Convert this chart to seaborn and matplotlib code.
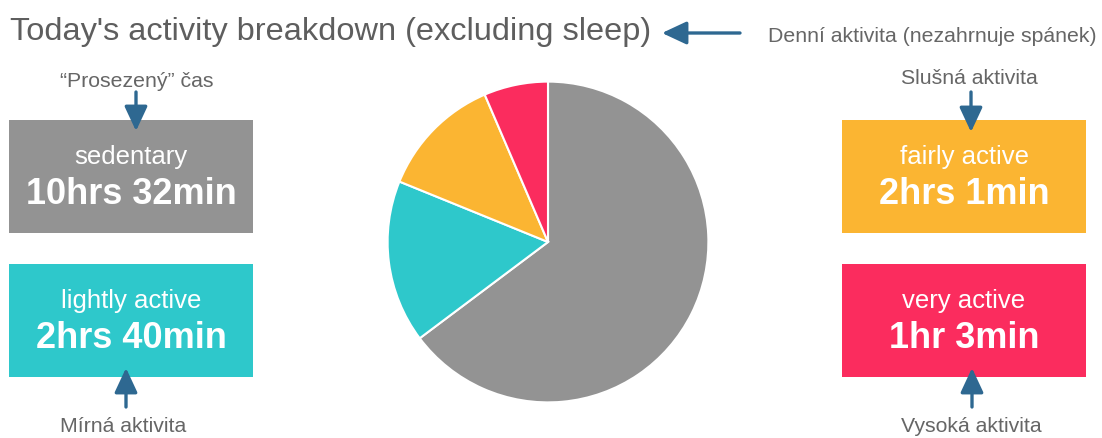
import matplotlib
matplotlib.use("Agg")
import matplotlib.pyplot as plt
from matplotlib import font_manager
from matplotlib.patches import Rectangle, FancyArrowPatch
import seaborn as sns

# Daily activity totals (minutes), excluding sleep
categories = ["sedentary", "lightly active", "fairly active", "very active"]
minutes = [632, 160, 121, 63]
duration_labels = ["10hrs 32min", "2hrs 40min", "2hrs 1min", "1hr 3min"]
czech_labels = ["\u201cProsezen\u00fd\u201d \u010das", "M\u00edrn\u00e1 aktivita",
                "Slu\u0161n\u00e1 aktivita", "Vysok\u00e1 aktivita"]
title_text = "Today's activity breakdown (excluding sleep)"
title_note = "Denn\u00ed aktivita (nezahrnuje sp\u00e1nek)"
hex_colors = ["#939393", "#2ec8cb", "#fbb532", "#fb2c5e"]

sns.set_theme(style="white")
palette = sns.color_palette(hex_colors)


def pick_font(names):
    for n in names:
        try:
            font_manager.findfont(font_manager.FontProperties(family=n),
                                  fallback_to_default=False)
            return n
        except Exception:
            pass
    return "DejaVu Sans"


SANS = pick_font(["Liberation Sans", "Arial", "DejaVu Sans"])
plt.rcParams["font.family"] = [SANS, "DejaVu Sans"]

W, H = 1102, 438
fig = plt.figure(figsize=(W / 100, H / 100), dpi=100)
fig.patch.set_facecolor("white")

# Layout canvas in pixel units (y downward)
bg = fig.add_axes([0, 0, 1, 1])
bg.set_xlim(0, W)
bg.set_ylim(H, 0)
bg.axis("off")

# Pie chart
cx, cy, r = 548, 242, 162
pie_ax = fig.add_axes([(cx - r) / W, (H - cy - r) / H, 2 * r / W, 2 * r / H])
pie_ax.pie(minutes, colors=palette, startangle=90, counterclock=False,
           wedgeprops=dict(edgecolor="white", linewidth=1.5))
pie_ax.set_xlim(-1.01, 1.01)
pie_ax.set_ylim(-1.01, 1.01)
pie_ax.set_aspect("equal")
pie_ax.axis("off")

arrow_color = "#2e6891"
text_gray = "#666666"
caption_size = 15.3

# Title and its note
bg.text(10, 40, title_text, fontsize=23.4, color="#5e5e5e", ha="left", va="baseline")
bg.text(1097, 42, title_note, fontsize=caption_size, color=text_gray, ha="right",
        va="baseline")


def arrow(x0, y0, x1, y1):
    a = FancyArrowPatch((x0, y0), (x1, y1),
                        arrowstyle="-|>,head_length=0.75,head_width=0.35",
                        mutation_scale=20, color=arrow_color, linewidth=2.4,
                        shrinkA=0, shrinkB=0, zorder=5)
    bg.add_patch(a)


arrow(740, 33, 662, 33)

# Summary boxes: (left, top) for each category
box_pos = [(9, 120), (9, 264), (842, 120), (842, 264)]
box_w, box_h = 244, 113
for i, (bx, by) in enumerate(box_pos):
    bg.add_patch(Rectangle((bx, by), box_w, box_h, facecolor=palette[i],
                           edgecolor="none", zorder=2))
    mid = bx + box_w / 2
    bg.text(mid, by + 44, categories[i], fontsize=18.5, color="white",
            ha="center", va="baseline", zorder=3)
    bg.text(mid, by + 84, duration_labels[i], fontsize=26, fontweight="bold",
            color="white", ha="center", va="baseline", zorder=3)

# Czech captions with pointer arrows
bg.text(137, 87, czech_labels[0], fontsize=caption_size, color=text_gray,
        ha="center", va="baseline")
arrow(136, 92, 136, 131)
bg.text(969, 84, czech_labels[2], fontsize=caption_size, color=text_gray,
        ha="center", va="baseline")
arrow(971, 92, 971, 132)
bg.text(123, 432, czech_labels[1], fontsize=caption_size, color=text_gray,
        ha="center", va="baseline")
arrow(126, 407, 126, 368)
bg.text(971, 432, czech_labels[3], fontsize=caption_size, color=text_gray,
        ha="center", va="baseline")
arrow(972, 407, 972, 368)

fig.savefig("out.png", dpi=100, facecolor="white")
